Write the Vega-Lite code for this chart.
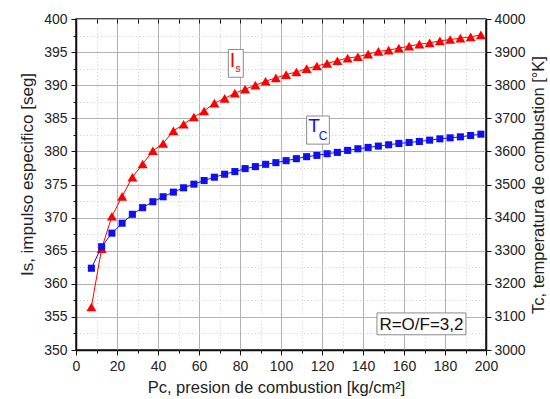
{
  "$schema": "https://vega.github.io/schema/vega-lite/v6.json",
  "width": 410,
  "height": 331,
  "autosize": {"type": "none"},
  "padding": {"left": 76, "top": 19, "right": 64, "bottom": 49},
  "background": "white",
  "config": {
    "font": "Liberation Sans",
    "view": {"stroke": "#111", "strokeWidth": 1.5},
    "axis": {
      "labelFont": "Liberation Sans",
      "titleFont": "Liberation Sans",
      "labelFontSize": 14,
      "titleFontSize": 16.5,
      "labelColor": "#222",
      "titleColor": "#222",
      "titleFontWeight": "normal",
      "domainColor": "#111",
      "domainWidth": 1.5,
      "tickColor": "#111",
      "tickWidth": 1,
      "labelOverlap": false,
      "labelFlush": false
    }
  },
  "datasets": {
    "rocket": [
      {"Pc": 7.5, "Is": 356.5, "Tc": 3247},
      {"Pc": 12.5, "Is": 365.3, "Tc": 3312},
      {"Pc": 17.5, "Is": 370.2, "Tc": 3353},
      {"Pc": 22.5, "Is": 373.2, "Tc": 3383},
      {"Pc": 27.5, "Is": 376.1, "Tc": 3410},
      {"Pc": 32.5, "Is": 378.1, "Tc": 3430},
      {"Pc": 37.5, "Is": 380.1, "Tc": 3448},
      {"Pc": 42.5, "Is": 381.2, "Tc": 3463},
      {"Pc": 47.5, "Is": 383.1, "Tc": 3477},
      {"Pc": 52.5, "Is": 384.1, "Tc": 3490},
      {"Pc": 57.5, "Is": 385.2, "Tc": 3501},
      {"Pc": 62.5, "Is": 386.1, "Tc": 3512},
      {"Pc": 67.5, "Is": 387.3, "Tc": 3522},
      {"Pc": 72.5, "Is": 388.0, "Tc": 3531},
      {"Pc": 77.5, "Is": 388.8, "Tc": 3539},
      {"Pc": 82.5, "Is": 389.4, "Tc": 3548},
      {"Pc": 87.5, "Is": 390.0, "Tc": 3554},
      {"Pc": 92.5, "Is": 390.6, "Tc": 3561},
      {"Pc": 97.5, "Is": 391.1, "Tc": 3566},
      {"Pc": 102.5, "Is": 391.6, "Tc": 3572},
      {"Pc": 107.5, "Is": 392.0, "Tc": 3578},
      {"Pc": 112.5, "Is": 392.5, "Tc": 3584},
      {"Pc": 117.5, "Is": 392.9, "Tc": 3588},
      {"Pc": 122.5, "Is": 393.3, "Tc": 3593},
      {"Pc": 127.5, "Is": 393.7, "Tc": 3597},
      {"Pc": 132.5, "Is": 394.1, "Tc": 3603},
      {"Pc": 137.5, "Is": 394.3, "Tc": 3608},
      {"Pc": 142.5, "Is": 394.7, "Tc": 3612},
      {"Pc": 147.5, "Is": 395.1, "Tc": 3616},
      {"Pc": 152.5, "Is": 395.3, "Tc": 3620},
      {"Pc": 157.5, "Is": 395.6, "Tc": 3624},
      {"Pc": 162.5, "Is": 395.9, "Tc": 3627},
      {"Pc": 167.5, "Is": 396.2, "Tc": 3630},
      {"Pc": 172.5, "Is": 396.4, "Tc": 3634},
      {"Pc": 177.5, "Is": 396.7, "Tc": 3638},
      {"Pc": 182.5, "Is": 396.9, "Tc": 3641},
      {"Pc": 187.5, "Is": 397.1, "Tc": 3644},
      {"Pc": 192.5, "Is": 397.3, "Tc": 3648},
      {"Pc": 197.5, "Is": 397.6, "Tc": 3652}
    ]
  },
  "layer": [
    {
      "data": {"name": "rocket"},
      "mark": {"type": "point", "opacity": 0},
      "encoding": {
        "x": {
          "field": "Pc", "type": "quantitative",
          "scale": {"domain": [0, 200], "nice": false},
          "axis": {
            "orient": "bottom",
            "title": null,
            "labels": false,
            "domain": false,
            "values": [10,30,50,70,90,110,130,150,170,190],
            "tickSize": 3,
            "grid": true,
            "gridColor": "#cdcdcd",
            "gridDash": [1, 2.5]
          }
        },
        "y": {
          "field": "Is", "type": "quantitative",
          "scale": {"domain": [350, 400], "nice": false, "zero": false},
          "axis": {
            "orient": "left",
            "title": null,
            "labels": false,
            "domain": false,
            "values": [352.5,357.5,362.5,367.5,372.5,377.5,382.5,387.5,392.5,397.5],
            "tickSize": 3,
            "grid": true,
            "gridColor": "#cdcdcd",
            "gridDash": [1, 2.5]
          }
        }
      }
    },
    {
      "data": {"name": "rocket"},
      "encoding": {
        "x": {
          "field": "Pc", "type": "quantitative",
          "scale": {"domain": [0, 200], "nice": false},
          "axis": {
            "orient": "bottom",
            "title": "Pc, presion de combustion [kg/cm²]",
            "values": [0,20,40,60,80,100,120,140,160,180,200],
            "format": "d",
            "grid": true,
            "gridColor": "#b2b2b2",
            "tickSize": 5,
            "labelPadding": 4,
            "titleX": 200,
            "titleY": 42,
            "titleBaseline": "alphabetic"
          }
        },
        "y": {
          "field": "Is", "type": "quantitative",
          "scale": {"domain": [350, 400], "nice": false, "zero": false},
          "axis": {
            "orient": "left",
            "title": "Is, impulso especifico [seg]",
            "titleFontSize": 17,
            "values": [350,355,360,365,370,375,380,385,390,395,400],
            "format": "d",
            "grid": true,
            "gridColor": "#b2b2b2",
            "tickSize": 5,
            "labelPadding": 4,
            "titleX": -44,
            "titleY": 155,
            "titleBaseline": "alphabetic"
          }
        }
      },
      "layer": [
        {"mark": {"type": "line", "color": "#ff0000", "strokeWidth": 1}},
        {"mark": {"type": "point", "shape": "triangle-up", "filled": true, "size": 100, "color": "#ff0000", "opacity": 1}}
      ]
    },
    {
      "data": {"name": "rocket"},
      "encoding": {
        "x": {
          "field": "Pc", "type": "quantitative",
          "scale": {"domain": [0, 200], "nice": false},
          "axis": {
            "orient": "top",
            "title": null,
            "labels": false,
            "grid": false,
            "domain": false,
            "values": [0,10,20,30,40,50,60,70,80,90,100,110,120,130,140,150,160,170,180,190,200],
            "tickSize": -4
          }
        },
        "y": {
          "field": "Tc", "type": "quantitative",
          "scale": {"domain": [3000, 4000], "nice": false, "zero": false},
          "axis": {
            "orient": "right",
            "title": "Tc, temperatura de combustion [°K]",
            "values": [3000,3100,3200,3300,3400,3500,3600,3700,3800,3900,4000],
            "format": "d",
            "grid": false,
            "tickSize": 5,
            "labelPadding": 3,
            "titleAngle": -90,
            "titleX": 57,
            "titleY": 165.5,
            "titleBaseline": "alphabetic"
          }
        }
      },
      "layer": [
        {"mark": {"type": "line", "color": "#1010ee", "strokeWidth": 1}},
        {"mark": {"type": "point", "shape": "square", "filled": true, "size": 50, "color": "#1010ee", "opacity": 1}}
      ]
    },
    {
      "encoding": {
        "x": {"field": "Pc", "type": "quantitative", "scale": {"domain": [0, 200], "nice": false}, "axis": null},
        "y": {"field": "Is", "type": "quantitative", "scale": {"domain": [350, 400], "nice": false, "zero": false}, "axis": null}
      },
      "layer": [
        {
          "data": {"values": [
            {"Pc": 74.3, "Pc2": 81.6, "Is": 395.4, "Is2": 391.2},
            {"Pc": 112.5, "Pc2": 123.6, "Is": 385.35, "Is2": 381.1},
            {"Pc": 146.8, "Pc2": 190.2, "Is": 355.6, "Is2": 352.3}
          ]},
          "mark": {"type": "rect", "fill": "white", "stroke": "#8a8a8a", "strokeWidth": 1},
          "encoding": {"x2": {"field": "Pc2"}, "y2": {"field": "Is2"}}
        },
        {
          "data": {"values": [{"Pc": 76.3, "Is": 392.75, "label": "I"}]},
          "mark": {"type": "text", "fontSize": 20, "color": "#ff0000", "align": "center", "baseline": "alphabetic"},
          "encoding": {"text": {"field": "label"}}
        },
        {
          "data": {"values": [{"Pc": 79.0, "Is": 392.0, "label": "s"}]},
          "mark": {"type": "text", "fontSize": 11, "color": "#ff0000", "align": "center", "baseline": "alphabetic"},
          "encoding": {"text": {"field": "label"}}
        },
        {
          "data": {"values": [{"Pc": 116.1, "Is": 382.9, "label": "T"}]},
          "mark": {"type": "text", "fontSize": 19, "color": "#1010ee", "align": "center", "baseline": "alphabetic"},
          "encoding": {"text": {"field": "label"}}
        },
        {
          "data": {"values": [{"Pc": 120.5, "Is": 381.7, "label": "C"}]},
          "mark": {"type": "text", "fontSize": 12, "color": "#1010ee", "align": "center", "baseline": "alphabetic"},
          "encoding": {"text": {"field": "label"}}
        },
        {
          "data": {"values": [{"Pc": 168.5, "Is": 353.0, "label": "R=O/F=3,2"}]},
          "mark": {"type": "text", "fontSize": 17, "color": "#111", "align": "center", "baseline": "alphabetic"},
          "encoding": {"text": {"field": "label"}}
        }
      ]
    }
  ],
  "resolve": {"scale": {"x": "independent", "y": "independent"}}
}
